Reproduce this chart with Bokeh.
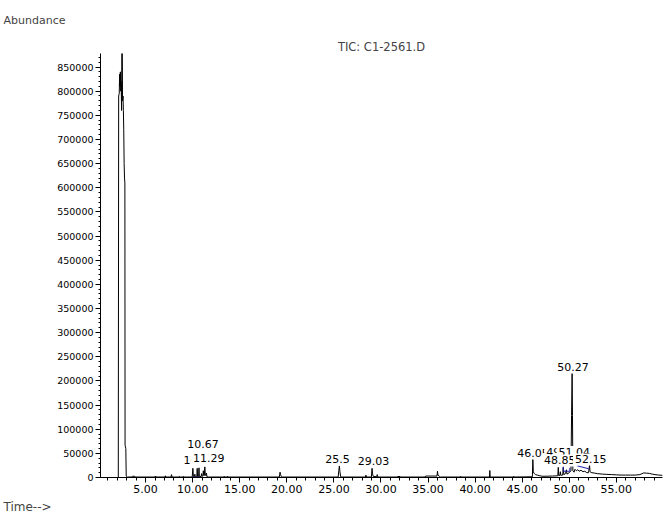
from bokeh.plotting import figure
from bokeh.models import Range1d, FixedTicker, NumeralTickFormatter, Label, Title
from bokeh.embed import file_html
from bokeh.resources import INLINE

# ---- data ----
time_min = [
    0.21, 2.10, 2.14, 2.20, 2.24, 2.28, 2.32, 2.36, 2.40, 2.45, 2.48, 2.52, 2.55, 2.60, 2.64, 2.68,
    2.72, 2.76, 2.80, 2.82, 2.90, 2.94, 3.05,
    3.55, 3.60, 3.85, 3.90,
    6.00, 6.05, 6.10,
    7.05, 7.10, 7.15,
    7.70, 7.75, 7.80,
    8.55, 8.60, 8.70, 8.95, 9.00, 9.05,
    9.95, 10.02, 10.08, 10.20, 10.23, 10.27, 10.44, 10.48, 10.52, 10.63, 10.67, 10.71,
    10.90, 10.94, 10.98, 11.08, 11.13, 11.18, 11.24, 11.29, 11.34, 11.42, 11.46, 11.52, 11.70,
    13.30, 13.35, 13.40, 13.65, 13.70, 13.75,
    19.20, 19.28, 19.34, 19.42, 19.55,
    25.45, 25.52, 25.58, 25.64, 25.72, 25.85,
    28.35, 28.40, 28.45,
    28.98, 29.05, 29.10, 29.16, 29.55, 29.60, 29.65, 29.80,
    31.70, 31.75, 32.05, 32.10,
    34.70, 34.75, 35.95, 36.00, 36.05, 36.20, 36.30,
    38.40, 38.45, 38.50,
    41.52, 41.56, 41.60,
    44.05, 44.10, 44.15,
    46.08, 46.13, 46.18, 46.25, 46.40, 46.60, 46.80, 47.00, 47.20,
    48.20, 48.78, 48.83, 48.88, 49.00, 49.05, 49.10, 49.30, 49.36, 49.42, 49.60, 49.70, 49.75,
    50.00, 50.18, 50.24, 50.30, 50.34, 50.38, 50.50, 50.60, 50.75, 50.90, 51.05, 51.25, 51.45,
    51.65, 51.85, 52.05, 52.15, 52.20, 52.25, 52.40, 52.70, 53.00, 53.50, 54.00, 54.50, 55.00,
    55.50, 56.00, 56.50, 57.00, 57.50, 57.90, 58.20, 58.50, 58.80, 59.10, 59.50, 59.90,
]
abundance = [
    0, 0, 790000, 795000, 835000, 810000, 840000, 800000, 820000, 760000, 900000, 900000, 780000,
    790000, 760000, 720000, 650000, 620000, 610000, 67000, 60000, 3000, 1000,
    1000, 2500, 2500, 1000,
    1000, 3000, 1000,
    1000, 3500, 1000,
    1000, 6000, 1000,
    1000, 2500, 1000, 1000, 2500, 1000,
    1000, 19000, 1500, 1500, 7000, 1500, 1500, 19000, 1500, 1500, 20000, 2000,
    2000, 8000, 2500, 3000, 14000, 4000, 4000, 22000, 5000, 4000, 9000, 1500, 1000,
    1000, 2500, 1000, 1000, 2500, 1000,
    1000, 11000, 6000, 1500, 1000,
    1000, 14000, 24000, 12000, 1500, 1000,
    1000, 5000, 1000,
    1000, 19000, 9000, 2500, 1500, 6000, 1500, 1000,
    1000, 2000, 2000, 1000,
    1000, 3000, 3000, 13000, 5000, 2500, 1000,
    1000, 2500, 1000,
    1000, 14500, 1000,
    1000, 2500, 1000,
    1500, 37000, 12000, 9000, 6000, 5000, 4000, 3000, 2500,
    3000, 3500, 21000, 4000, 4500, 12000, 4500, 5000, 21000, 6000, 8000, 16000, 7000,
    10000, 14000, 128000, 216000, 128000, 14000, 11000, 17000, 14000, 16000, 13000, 15000, 12000,
    13000, 10000, 10000, 26000, 13000, 11000, 10000, 9000, 8000, 7000, 6500, 6000, 5500,
    5000, 5000, 5000, 5000, 6000, 9500, 9000, 8500, 7000, 6000, 5000, 4500,
]

# integration baselines (blue)
base_t = [[9.97, 10.80], [49.36, 49.36, 50.06, 50.06], [50.48, 52.08]]
base_v = [[500, 500], [23000, 13000, 13000, 20000], [26000, 18000]]

# peak labels (text, time, height of label) - drawn in this order, later ones cover earlier ones
peak_text = ["10.23", "10.67", "11.29", "25.5", "29.03", "46.05", "49.51", "51.04", "48.85", "52.15", "50.27"]
peak_t = [10.70, 11.10, 11.71, 25.38, 29.21, 46.14, 49.22, 50.53, 48.98, 52.28, 50.40]
peak_v = [36000, 68500, 39400, 37350, 33200, 51250, 52900, 52500, 35300, 37350, 228000]

x_major = [5, 10, 15, 20, 25, 30, 35, 40, 45, 50, 55]
x_minor = list(range(1, 60))
y_major = list(range(0, 850001, 50000))
y_minor = list(range(0, 880001, 10000))

FONT = "DejaVu Sans"

p = figure(width=665, height=519, output_backend="svg", toolbar_location=None,
           x_range=Range1d(0.21, 59.9), y_range=Range1d(0, 878000),
           min_border_left=100, min_border_right=3, min_border_top=53, min_border_bottom=42)
p.outline_line_color = None
p.grid.visible = False
p.background_fill_color = "white"
p.border_fill_color = "white"

# outer title: "Abundance" (top-left)
p.title.text = "Abundance"
p.title.align = "left"
p.title.offset = -97
p.title.text_font = FONT
p.title.text_font_size = "11px"
p.title.text_font_style = "normal"
p.title.standoff = 22

# inner title, centred over the frame
p.add_layout(Title(text="TIC: C1-2561.D", align="center", text_font=FONT, text_font_size="11.5px",
                   text_font_style="normal", standoff=0), "above")

p.line(time_min, abundance, line_color="black", line_width=1)
p.multi_line(base_t, base_v, line_color="#1a1aa6", line_width=1)

xa = p.xaxis[0]
xa.ticker = FixedTicker(ticks=x_major, minor_ticks=x_minor)
xa.formatter = NumeralTickFormatter(format="0.00")
xa.major_tick_out = 5
xa.major_tick_in = 0
xa.minor_tick_out = 3
xa.minor_tick_in = 0
xa.major_label_standoff = 2
xa.major_label_text_font = FONT
xa.major_label_text_font_size = "11px"
xa.major_label_text_color = "black"
xa.axis_line_color = "black"

ya = p.yaxis[0]
ya.ticker = FixedTicker(ticks=y_major, minor_ticks=y_minor)
ya.formatter = NumeralTickFormatter(format="0")
ya.major_tick_out = 5
ya.major_tick_in = 0
ya.minor_tick_out = 2
ya.minor_tick_in = 0
ya.major_label_standoff = 2
ya.major_label_text_font = FONT
ya.major_label_text_font_size = "9.5px"
ya.major_label_text_color = "black"
ya.axis_line_color = "black"

# "Time-->" below the x axis, at the left edge
p.add_layout(Title(text="Time-->", align="left", offset=-97, text_font=FONT, text_font_size="12px",
                   text_font_style="normal", standoff=4), "below")

for txt, tx, tv in zip(peak_text, peak_t, peak_v):
    p.add_layout(Label(x=tx, y=tv, text=txt, text_align="center", text_baseline="middle",
                       text_font=FONT, text_font_size="11px", text_color="black",
                       background_fill_color="white", padding=2))

open("out.html", "w").write(file_html(p, INLINE))
